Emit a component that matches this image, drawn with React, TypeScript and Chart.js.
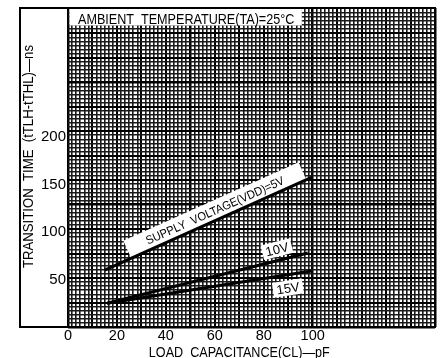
import React, { useEffect, useRef } from 'react';
import { Chart, registerables } from 'chart.js';

Chart.register(...registerables);

// ---- data ----
const capacitance5V = [15, 100];
const transition5V = [60, 158];
const capacitance10V = [16, 98];
const transition10V = [25, 78];
const capacitance15V = [16, 99.5];
const transition15V = [25, 59];

const xTickValues = [0, 20, 40, 60, 80, 100];
const yTickValues = [50, 100, 150, 200];

const seriesLabels = ['SUPPLY  VOLTAGE(VDD)=5V', '10V', '15V'];
const chartTitle = 'AMBIENT  TEMPERATURE(TA)=25°C';
const xTitle = 'LOAD  CAPACITANCE(CL)—pF';
const yTitle = 'TRANSITION  TIME  (tTLH-tTHL)—ns';

// label anchor points (data coordinates) for the in-plot curve labels
const labelAnchorX = [60, 85.4, 89.9];
const labelAnchorY = [123, 82, 41];

const FONT = '"Liberation Sans", Arial, Helvetica, sans-serif';

function toPoints(xs: number[], ys: number[]) {
  return xs.map((x, i) => ({ x, y: ys[i] }));
}

function gridWidth(ctx: any) {
  const i = ctx.index;
  if (i % 30 === 0) return 2.5;
  if (i % 6 === 0) return 2;
  return 1.6;
}

function gridColor(ctx: any) {
  return ctx.index % 6 === 0 ? '#000' : '#1a1a1a';
}

function drawScaledText(
  ctx: CanvasRenderingContext2D,
  text: string,
  x: number,
  y: number,
  size: number,
  scaleX: number,
  align: CanvasTextAlign,
  rotation = 0
) {
  ctx.save();
  ctx.translate(x, y);
  if (rotation) ctx.rotate(rotation);
  ctx.scale(scaleX, 1);
  ctx.font = `${size}px ${FONT}`;
  ctx.fillStyle = '#000';
  ctx.textAlign = align;
  ctx.textBaseline = 'alphabetic';
  ctx.fillText(text, 0, 0);
  ctx.restore();
}

const overlayPlugin = {
  id: 'datasheetOverlay',
  beforeDatasetsDraw(chart: any) {
    const { ctx, chartArea: ca, scales } = chart;
    const xs = scales.x;
    const ys = scales.y;
    ctx.save();

    // outer frame
    ctx.strokeStyle = '#000';
    ctx.lineWidth = 2;
    ctx.strokeRect(ca.left - 48, ca.top, ca.right - ca.left + 48, ca.bottom - ca.top);

    // title box
    ctx.font = `14px ${FONT}`;
    const tw = ctx.measureText(chartTitle).width * 0.9;
    ctx.fillStyle = '#fff';
    ctx.fillRect(ca.left + 1.5, ca.top + 1, tw + 16, 16.5);
    drawScaledText(ctx, chartTitle, ca.left + 10, ca.top + 16, 14, 0.9, 'left');

    // curve labels
    const lines = [
      [capacitance5V, transition5V],
      [capacitance10V, transition10V],
      [capacitance15V, transition15V],
    ];
    const sizes = [12, 13, 13];
    const scales2 = [0.92, 1, 1];
    const padW = [42, 7, 7];
    const boxH = [19, 15, 15];
    lines.forEach(([cx, cy], i) => {
      const x0 = xs.getPixelForValue(cx[0]);
      const x1 = xs.getPixelForValue(cx[cx.length - 1]);
      const y0 = ys.getPixelForValue(cy[0]);
      const y1 = ys.getPixelForValue(cy[cy.length - 1]);
      const angle = Math.atan2(y1 - y0, x1 - x0);
      const px = xs.getPixelForValue(labelAnchorX[i]);
      const py = ys.getPixelForValue(labelAnchorY[i]);
      ctx.font = `${sizes[i]}px ${FONT}`;
      const w = ctx.measureText(seriesLabels[i]).width * scales2[i] + padW[i];
      ctx.save();
      ctx.translate(px, py);
      ctx.rotate(angle);
      ctx.fillStyle = '#fff';
      ctx.fillRect(-w / 2, -boxH[i] / 2, w, boxH[i]);
      ctx.restore();
      // text baseline sits a little below the box centre
      const off = sizes[i] * 0.36;
      drawScaledText(
        ctx,
        seriesLabels[i],
        px - Math.sin(angle) * off,
        py + Math.cos(angle) * off,
        sizes[i],
        scales2[i],
        'center',
        angle
      );
    });

    // axis titles
    drawScaledText(ctx, yTitle, ca.left - 35, ca.top + 148.5, 14, 0.94, 'center', -Math.PI / 2);
    drawScaledText(ctx, xTitle, xs.getPixelForValue(70), ca.bottom + 29.5, 14, 0.9, 'center');

    ctx.restore();
  },
};

export default function App() {
  const canvasRef = useRef<HTMLCanvasElement | null>(null);

  useEffect(() => {
    const canvas = canvasRef.current;
    if (!canvas) return;
    const lineStyle = {
      borderColor: '#000',
      backgroundColor: '#000',
      borderWidth: 3,
      pointRadius: 0,
      fill: false,
      tension: 0,
      xAxisID: 'x',
      yAxisID: 'y',
    };
    const chart = new Chart(canvas, {
      type: 'line',
      data: {
        datasets: [
          { label: seriesLabels[0], data: toPoints(capacitance5V, transition5V), ...lineStyle },
          { label: seriesLabels[1], data: toPoints(capacitance10V, transition10V), ...lineStyle },
          { label: seriesLabels[2], data: toPoints(capacitance15V, transition15V), ...lineStyle },
        ],
      },
      options: {
        responsive: false,
        animation: false,
        devicePixelRatio: 1,
        layout: { padding: { top: 8, right: 6, left: 0, bottom: 0 } },
        plugins: { legend: { display: false }, tooltip: { enabled: false } },
        scales: {
          x: {
            type: 'linear',
            position: 'bottom',
            min: 0,
            max: 150,
            ticks: {
              stepSize: 20,
              autoSkip: false,
              maxRotation: 0,
              padding: 0,
              color: '#000',
              font: { family: FONT, size: 14.5 },
              callback: (v: any) => (xTickValues.includes(Number(v)) ? String(v) : ''),
            },
            grid: { display: false, drawTicks: false, tickLength: 0 },
            border: { display: false },
            afterFit: (s: any) => {
              s.height = 31;
              s.paddingLeft = 0;
              s.paddingRight = 0;
            },
          },
          y: {
            type: 'linear',
            position: 'left',
            min: 0,
            max: 336,
            ticks: {
              stepSize: 50,
              autoSkip: false,
              padding: 2,
              color: '#000',
              font: { family: FONT, size: 15 },
              callback: (v: any) => (yTickValues.includes(Number(v)) ? String(v) : ''),
            },
            grid: { display: false, drawTicks: false, tickLength: 0 },
            border: { display: false },
            afterFit: (s: any) => {
              s.width = 68;
              s.paddingTop = 0;
              s.paddingBottom = 0;
            },
          },
          xg: {
            type: 'linear',
            position: 'top',
            min: 0,
            max: 90,
            ticks: { display: false, stepSize: 1, autoSkip: false },
            grid: { color: gridColor, lineWidth: gridWidth, drawTicks: false },
            border: { display: false },
            afterFit: (s: any) => {
              s.height = 0;
              s.paddingLeft = 0;
              s.paddingRight = 0;
            },
          },
          yg: {
            type: 'linear',
            position: 'right',
            min: 0,
            max: 78.2,
            ticks: { display: false, stepSize: 1, autoSkip: false },
            grid: { color: gridColor, lineWidth: gridWidth, drawTicks: false },
            border: { display: false },
            afterFit: (s: any) => {
              s.width = 0;
              s.paddingTop = 0;
              s.paddingBottom = 0;
            },
          },
        },
      } as any,
      plugins: [overlayPlugin],
    });
    return () => chart.destroy();
  }, []);

  return (
    <div style={{ position: 'fixed', left: 0, top: 0, width: 441, height: 358, background: '#fff' }}>
      <canvas ref={canvasRef} width={441} height={358} style={{ display: 'block' }} />
    </div>
  );
}
